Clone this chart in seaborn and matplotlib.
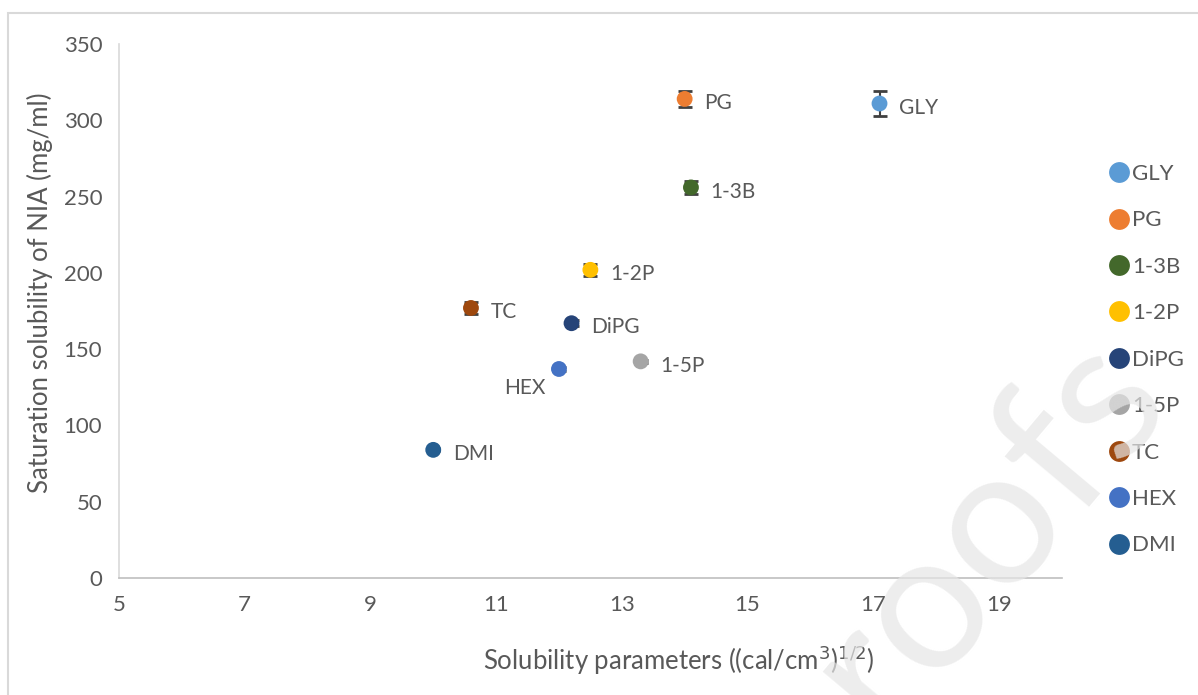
import matplotlib.pyplot as plt
import matplotlib.patches as patches
import pandas as pd
import seaborn as sns

# data
solvents = ["GLY", "PG", "1-3B", "1-2P", "DiPG", "1-5P", "TC", "HEX", "DMI"]
sol_param = [17.1, 14.0, 14.1, 12.5, 12.2, 13.3, 10.6, 12.0, 10.0]
solubility = [311, 314, 256, 202, 167, 142, 177, 137, 84]
sol_err = [8, 5, 4, 4, 2, 1, 4, 1, 1]
colors = ["#5B9BD5", "#ED7D31", "#43682B", "#FFC000", "#264478",
          "#A5A5A5", "#9E480E", "#4472C4", "#255E91"]
x_ticks = [5, 7, 9, 11, 13, 15, 17, 19]
y_ticks = [0, 50, 100, 150, 200, 250, 300, 350]

# label offsets in points (dx, dy, ha)
label_pos = {"HEX": (-10, -14, "right")}

df = pd.DataFrame({"solvent": solvents, "x": sol_param, "y": solubility, "err": sol_err})

sns.set_theme(style="white")
plt.rcParams["font.family"] = ["Lato", "DejaVu Sans"]
txt = "#595959"

fig = plt.figure(figsize=(11.98, 6.95), dpi=100)
ax = fig.add_axes([0.0993, 0.1683, 0.787, 0.7684])

ax.errorbar(df["x"], df["y"], yerr=df["err"], fmt="none", ecolor="#404040",
            elinewidth=1.5, capsize=5, capthick=2, zorder=2)
sns.scatterplot(data=df, x="x", y="y", hue="solvent", hue_order=solvents,
                palette=dict(zip(solvents, colors)), s=130, edgecolor="none",
                ax=ax, zorder=3, legend=False)

for name, xv, yv in zip(solvents, sol_param, solubility):
    dx, dy, ha = label_pos.get(name, (14, -3, "left"))
    ax.annotate(name, (xv, yv), xytext=(dx, dy), textcoords="offset points",
                ha=ha, va="center", fontsize=15, color=txt)

ax.set_xlim(5, 20)
ax.set_ylim(0, 350)
ax.set_xticks(x_ticks)
ax.set_yticks(y_ticks)
ax.tick_params(labelsize=16, colors=txt, length=0, pad=12)
ax.set_xlabel("Solubility parameters ((cal/cm$^3$)$^{1/2}$)", fontsize=18.5,
              color=txt, va="center", ha="center")
ax.set_ylabel("Saturation solubility of NIA (mg/ml)", fontsize=18.5,
              color=txt, va="center", ha="center")
ax.xaxis.set_label_coords(0.594, -0.154)
ax.yaxis.set_label_coords(-0.084, 0.535)
for side in ["top", "right"]:
    ax.spines[side].set_visible(False)
ax.spines["left"].set_color("#D9D9D9")
ax.spines["bottom"].set_color("#BFBFBF")
ax.spines["left"].set_linewidth(1.2)
ax.spines["bottom"].set_linewidth(1.2)

handles = [plt.Line2D([], [], marker="o", linestyle="none", markersize=15,
                      markerfacecolor=c, markeredgecolor="none") for c in colors]
leg = fig.legend(handles, solvents, loc="upper left", bbox_to_anchor=(0.917, 0.777),
                 frameon=False, fontsize=16, handletextpad=0.05, labelspacing=1.19,
                 handlelength=1.05, borderaxespad=0)
for t in leg.get_texts():
    t.set_color(txt)

# chart border
fig.patches.append(patches.Rectangle((8 / 1198, -0.05), 1.2, 1.05 - 13 / 695,
                                     transform=fig.transFigure, fill=False,
                                     edgecolor="#D9D9D9", linewidth=1.5))

# watermark
fig.text(1175 / 1198, 1 - 405 / 695, "Journal Pre-proofs", rotation=50,
         rotation_mode="anchor", ha="right", va="baseline", fontsize=140,
         color="#E6E6E6", alpha=0.7, zorder=10)

fig.savefig("out.png", dpi=100)
